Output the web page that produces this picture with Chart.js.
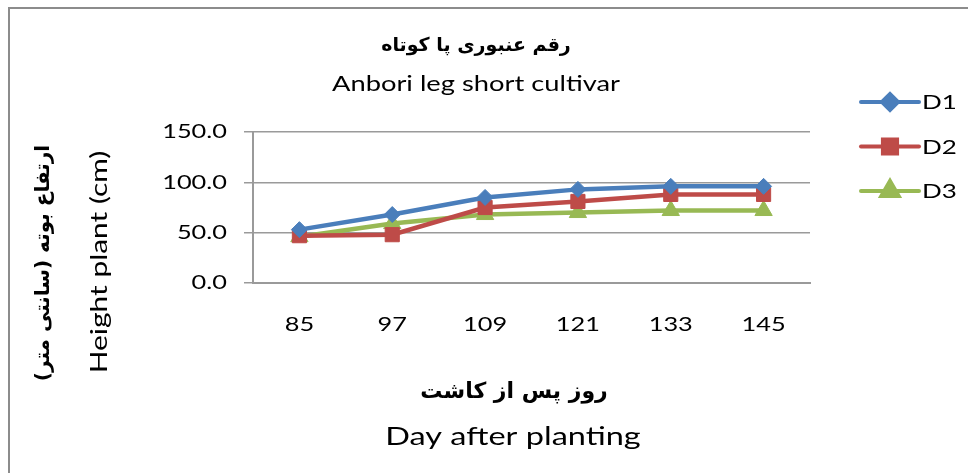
<!DOCTYPE html>
<html>
<head>
<meta charset="utf-8">
<script src="https://cdn.jsdelivr.net/npm/chart.js@4.4.0/dist/chart.umd.min.js"></script>
<style>
    html, body { margin: 0; padding: 0; background: #fff; }
    #wrap { width: 968px; height: 473px; position: relative; }
</style>
</head>
<body>
<div id="wrap"><canvas id="chart" width="968" height="473"></canvas></div>
<script>
const days = ['85', '97', '109', '121', '133', '145'];
const d1 = [53, 68, 85, 93, 96, 96];
const d2 = [47, 48, 75, 81, 88, 88];
const d3 = [46, 59, 68, 70, 72, 72];
const seriesNames = ['D1', 'D2', 'D3'];
const yTicks = [0, 50, 100, 150];

const titleFa = 'رقم عنبوری پا کوتاه';
const titleEn = 'Anbori leg short cultivar';
const xTitleFa = 'روز پس از کاشت';
const xTitleEn = 'Day after planting';
const yTitleFa = 'ارتفاع بوته (سانتی متر)';
const yTitleEn = 'Height plant (cm)';

const latin = 'Lato, "Open Sans", sans-serif';
const farsi = '"DejaVu Sans", sans-serif';
// the source text looks horizontally stretched
const stretch = 1.3;

function wideText(ctx, text, x, y, font, align) {
    ctx.save();
    ctx.font = font;
    ctx.textAlign = align || 'center';
    ctx.textBaseline = 'middle';
    ctx.translate(x, y);
    ctx.scale(stretch, 1);
    ctx.fillText(text, 0, 0);
    ctx.restore();
}

// titles, tick labels, border and legend drawn by hand
const decor = {
    id: 'decor',
    afterDraw(chart) {
        const ctx = chart.ctx;
        ctx.save();

        ctx.strokeStyle = '#8c8c8c';
        ctx.lineWidth = 2;
        ctx.beginPath();
        ctx.moveTo(9, 480);
        ctx.lineTo(9, 8);
        ctx.lineTo(980, 8);
        ctx.stroke();

        ctx.fillStyle = '#000';
        ctx.textAlign = 'center';
        ctx.textBaseline = 'middle';

        ctx.font = 'bold 19px ' + farsi;
        ctx.fillText(titleFa, 476, 46);
        wideText(ctx, titleEn, 476, 84, '21px ' + latin);

        ctx.font = 'bold 22px ' + farsi;
        ctx.fillText(xTitleFa, 514, 392);
        wideText(ctx, xTitleEn, 513, 437, '25px ' + latin);

        ctx.save();
        ctx.translate(44, 263);
        ctx.rotate(-Math.PI / 2);
        ctx.font = 'bold 20px ' + farsi;
        ctx.fillText(yTitleFa, 0, 0);
        ctx.restore();

        ctx.save();
        ctx.translate(100, 262);
        ctx.rotate(-Math.PI / 2);
        wideText(ctx, yTitleEn, 0, 0, '23px ' + latin);
        ctx.restore();

        // tick labels placed by the scales
        const xs = chart.scales.x;
        const ys = chart.scales.y;
        xs.ticks.forEach((t, i) => {
            wideText(ctx, chart.data.labels[i], xs.getPixelForTick(i), 325, '19.5px ' + latin);
        });
        ys.ticks.forEach((t, i) => {
            wideText(ctx, Number(t.value).toFixed(1), 227, ys.getPixelForTick(i), '19.5px ' + latin, 'right');
        });

        // legend
        chart.data.datasets.forEach((ds, i) => {
            const y = 102 + i * 44.5;
            ctx.strokeStyle = ds.borderColor;
            ctx.lineWidth = 4;
            ctx.lineCap = 'round';
            ctx.beginPath();
            ctx.moveTo(861, y);
            ctx.lineTo(919, y);
            ctx.stroke();
            Chart.helpers.drawPoint(ctx, {
                pointStyle: ds.pointStyle,
                radius: ds.pointRadius,
                borderWidth: 1
            }, 890, y);
            ctx.fillStyle = ds.backgroundColor;
            ctx.fill();
            ctx.fillStyle = '#000';
            wideText(ctx, ds.label, 922, y + 1, '20px ' + latin, 'left');
        });

        ctx.restore();
    }
};

new Chart(document.getElementById('chart'), {
    type: 'line',
    data: {
        labels: days,
        datasets: [
            { label: seriesNames[0], data: d1, borderColor: '#4a7ebb', backgroundColor: '#4a7ebb', pointStyle: 'rectRot', pointRadius: 8 },
            { label: seriesNames[1], data: d2, borderColor: '#be4b48', backgroundColor: '#be4b48', pointStyle: 'rect', pointRadius: 10 },
            { label: seriesNames[2], data: d3, borderColor: '#98b954', backgroundColor: '#98b954', pointStyle: 'triangle', pointRadius: 10 }
        ].map(ds => Object.assign(ds, {
            borderWidth: 4.5,
            pointBorderColor: ds.borderColor,
            pointBackgroundColor: ds.backgroundColor,
            pointBorderWidth: 1,
            pointHoverRadius: ds.pointRadius,
            tension: 0
        }))
    },
    options: {
        responsive: false,
        animation: false,
        devicePixelRatio: 1,
        layout: { padding: { left: 10, top: 132, right: 158, bottom: 130 } },
        plugins: {
            legend: { display: false },
            title: { display: false },
            tooltip: { enabled: false }
        },
        scales: {
            x: {
                offset: true,
                grid: { display: false, drawTicks: false },
                border: { display: true, color: '#9a9a9a', width: 2 },
                ticks: { display: false },
                afterFit(scale) { scale.height = 60; }
            },
            y: {
                min: 0,
                max: 150,
                afterBuildTicks(scale) { scale.ticks = yTicks.map(v => ({ value: v })); },
                grid: { color: '#9a9a9a', lineWidth: 1.5, tickLength: 9 },
                border: { display: true, color: '#9a9a9a', width: 2 },
                ticks: { display: false },
                afterFit(scale) { scale.width = 243; }
            }
        }
    },
    plugins: [decor]
});
</script>
</body>
</html>
